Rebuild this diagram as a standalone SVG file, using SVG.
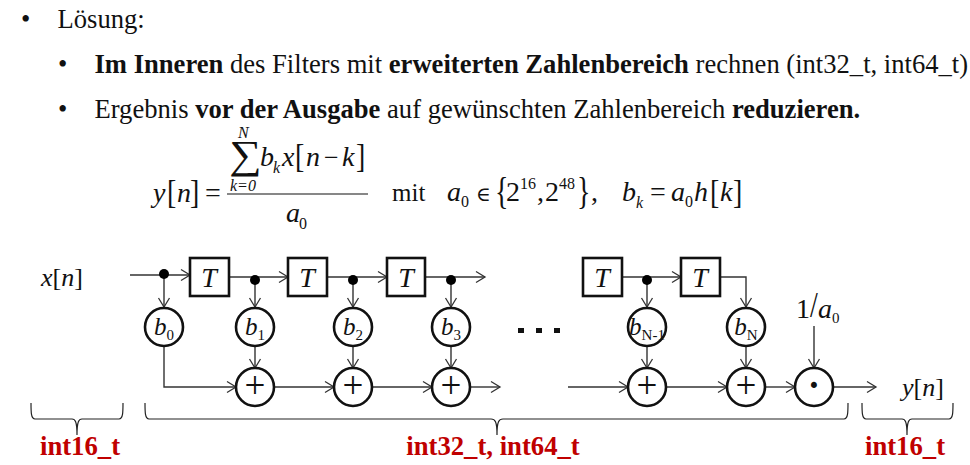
<svg xmlns="http://www.w3.org/2000/svg" width="970" height="465" viewBox="0 0 970 465">
<style>
text{font-family:"Liberation Serif","Times New Roman",serif;fill:#111}
.t{font-size:26.6px}
.b{font-weight:bold}
.i{font-style:italic}
.m{font-size:28px}
.s{font-size:16px}
.r{fill:#c00000;font-weight:bold;font-size:26.7px;text-anchor:middle}
.n{fill:#fff;stroke:#111;stroke-width:2.6}
.c{fill:none;stroke:#333;stroke-width:1.4;marker-end:url(#a)}
.br{fill:none;stroke:#222;stroke-width:1.2}
.lbl{font-size:25px;font-style:italic;text-anchor:middle}
.tt{font-size:28px}
.sub{font-size:15px;font-style:normal}
.op{font-size:37px;text-anchor:middle}
</style>
<defs>
<marker id="a" markerUnits="userSpaceOnUse" markerWidth="14" markerHeight="14" refX="11" refY="7" orient="auto"><path d="M2 1.5L11 7L2 12.5" fill="none" stroke="#333" stroke-width="1.3"/></marker>
</defs>
<rect width="970" height="465" fill="#fff"/>
<g id="bullets">
<text class="t" x="21" y="28">•</text><text class="t" x="57.5" y="28">Lösung:</text>
<text class="t" x="58" y="73">•</text><text class="t" x="94.5" y="73"><tspan class="b">Im Inneren</tspan> des Filters mit <tspan class="b">erweiterten Zahlenbereich</tspan> rechnen (int32_t, int64_t)</text>
<text class="t" x="58" y="118">•</text><text class="t" x="94.5" y="118">Ergebnis <tspan class="b">vor der Ausgabe</tspan> auf gewünschten Zahlenbereich <tspan class="b">reduzieren.</tspan></text>
</g>
<g id="formula">
<text class="m i" x="153" y="202">y</text>
<text transform="translate(167 203) scale(1 1.2)" class="m">[</text><text class="m i" x="177" y="202">n</text><text transform="translate(190 203) scale(1 1.2)" class="m">]</text>
<text class="m" x="205" y="202">=</text>
<line x1="227" y1="194" x2="368" y2="194" stroke="#111" stroke-width="1.2"/>
<text class="s i" x="238" y="138">N</text>
<text transform="translate(229 168) scale(1.2 1.05)" style="font-size:38px">∑</text>
<text class="s i" x="230" y="191">k=0</text>
<text class="m i" x="260" y="166">b</text><text class="s i" x="273" y="173">k</text><text class="m i" x="282" y="166">x</text>
<text transform="translate(295 167) scale(1 1.2)" class="m">[</text><text class="m i" x="306" y="166">n</text><text class="m" x="324" y="166" style="font-size:26px">−</text><text class="m i" x="342" y="166">k</text><text transform="translate(356 167) scale(1 1.2)" class="m">]</text>
<text class="m i" x="286" y="222">a</text><text class="s" x="299" y="229">0</text>
<text class="t" x="392" y="201" style="font-size:25px">mit</text>
<text class="m i" x="447" y="201">a</text><text class="s" x="461" y="207">0</text>
<text class="m" x="476" y="201" style="font-family:'DejaVu Serif',serif;font-size:20px">∈</text>
<text transform="translate(495 204) scale(1 1.35)" class="m">{</text>
<text class="m" x="506" y="201">2</text><text class="s" x="520" y="189">16</text>
<text class="m" x="537" y="201">,</text><text class="m" x="545" y="201">2</text><text class="s" x="559" y="189">48</text>
<text transform="translate(577 204) scale(1 1.35)" class="m">}</text><text class="m" x="591" y="201">,</text>
<text class="m i" x="622" y="201">b</text><text class="s i" x="636" y="208">k</text>
<text class="m" x="650" y="201">=</text>
<text class="m i" x="671" y="201">a</text><text class="s" x="685" y="207">0</text><text class="m i" x="694" y="201">h</text>
<text transform="translate(710 203) scale(1 1.2)" class="m">[</text><text class="m i" x="720" y="201">k</text><text transform="translate(733 203) scale(1 1.2)" class="m">]</text>
</g>
<g id="connectors">
<path class="c" d="M130 275H190"/>
<path class="c" d="M229 277H288"/>
<path class="c" d="M327 277H387"/>
<path class="c" d="M425 277H485"/>
<path class="c" d="M622 277H681"/>
<path class="c" d="M720 277H746V307"/>
<path class="c" d="M164 274V307"/>
<path class="c" d="M255 280V307"/>
<path class="c" d="M353 280V307"/>
<path class="c" d="M451 280V307"/>
<path class="c" d="M647 280V307"/>
<path class="c" d="M255 346V368"/>
<path class="c" d="M353 346V368"/>
<path class="c" d="M451 346V368"/>
<path class="c" d="M647 346V368"/>
<path class="c" d="M746 346V368"/>
<path class="c" d="M164 346V387H236"/>
<path class="c" d="M274 387H334"/>
<path class="c" d="M372 387H432"/>
<path class="c" d="M470 387H500"/>
<path class="c" d="M568 387H628"/>
<path class="c" d="M666 387H727"/>
<path class="c" d="M765 387H795"/>
<path class="c" d="M833 387H876"/>
<path class="c" d="M814 326V368"/>
</g>
<g id="dots" fill="#000">
<circle cx="164" cy="274" r="5"/><circle cx="255" cy="280" r="5"/><circle cx="353" cy="280" r="5"/><circle cx="451" cy="280" r="5"/><circle cx="647" cy="280" r="5"/>
</g>
<g id="xin"><text class="lbl" x="62" y="286" style="font-size:26px">x<tspan style="font-style:normal">[</tspan>n<tspan style="font-style:normal">]</tspan></text></g>
<g id="T1"><rect class="n" x="190" y="258" width="39" height="38"/><text class="lbl tt" x="209" y="287">T</text></g>
<g id="T2"><rect class="n" x="288" y="258" width="39" height="38"/><text class="lbl tt" x="307" y="287">T</text></g>
<g id="T3"><rect class="n" x="387" y="258" width="38" height="38"/><text class="lbl tt" x="406" y="287">T</text></g>
<g id="T4"><rect class="n" x="583" y="258" width="39" height="38"/><text class="lbl tt" x="602" y="287">T</text></g>
<g id="T5"><rect class="n" x="681" y="258" width="39" height="38"/><text class="lbl tt" x="700" y="287">T</text></g>
<g id="b0"><circle class="n" cx="164" cy="327" r="19"/><text class="lbl" x="164" y="335">b<tspan class="sub" dy="5">0</tspan></text></g>
<g id="b1"><circle class="n" cx="255" cy="327" r="19"/><text class="lbl" x="255" y="335">b<tspan class="sub" dy="5">1</tspan></text></g>
<g id="b2"><circle class="n" cx="353" cy="327" r="19"/><text class="lbl" x="353" y="335">b<tspan class="sub" dy="5">2</tspan></text></g>
<g id="b3"><circle class="n" cx="451" cy="327" r="19"/><text class="lbl" x="451" y="335">b<tspan class="sub" dy="5">3</tspan></text></g>
<g id="bN1"><circle class="n" cx="647" cy="327" r="19"/><text class="lbl" x="647" y="335">b<tspan class="sub" dy="5">N-1</tspan></text></g>
<g id="bN"><circle class="n" cx="746" cy="327" r="19"/><text class="lbl" x="746" y="335">b<tspan class="sub" dy="5">N</tspan></text></g>
<g id="p1"><circle class="n" cx="255" cy="387" r="19"/><text class="op" x="255" y="398">+</text></g>
<g id="p2"><circle class="n" cx="353" cy="387" r="19"/><text class="op" x="353" y="398">+</text></g>
<g id="p3"><circle class="n" cx="451" cy="387" r="19"/><text class="op" x="451" y="398">+</text></g>
<g id="p4"><circle class="n" cx="647" cy="387" r="19"/><text class="op" x="647" y="398">+</text></g>
<g id="p5"><circle class="n" cx="746" cy="387" r="19"/><text class="op" x="746" y="398">+</text></g>
<g id="mul"><circle class="n" cx="814" cy="387" r="19"/><text class="op b" x="814" y="398">·</text></g>
<g id="ellipsis" fill="#111"><rect x="518" y="328" width="6" height="5"/><rect x="536" y="328" width="6" height="5"/><rect x="554" y="328" width="6" height="5"/></g>
<g id="a0label"><text x="796" y="318" style="font-size:28px">1</text><text transform="translate(810 317) scale(1 1.25)" style="font-size:28px">/</text><text class="i" x="818" y="318" style="font-size:28px">a</text><text x="832" y="323" style="font-size:15px">0</text></g>
<g id="yout"><text class="lbl" x="923" y="396" style="font-size:26px">y<tspan style="font-style:normal">[</tspan>n<tspan style="font-style:normal">]</tspan></text></g>
<g id="braces">
<path class="br" d="M31 403C31 412 31 419 35 419H72C75 419 77 421 77 435C77 421 79 419 82 419H119C123 419 123 412 123 403"/>
<path class="br" d="M145 403C145 412 145 419 149 419H491C495 419 497 421 497 435C497 421 499 419 503 419H844C848 419 848 412 848 403"/>
<path class="br" d="M862 403C862 412 862 419 866 419H902C905 419 907 421 907 435C907 421 909 419 912 419H949C953 419 953 412 953 403"/>
</g>
<g id="types">
<text class="r" x="80" y="455">int16_t</text>
<text class="r" x="493" y="455">int32_t, int64_t</text>
<text class="r" x="905" y="455">int16_t</text>
</g>
</svg>
